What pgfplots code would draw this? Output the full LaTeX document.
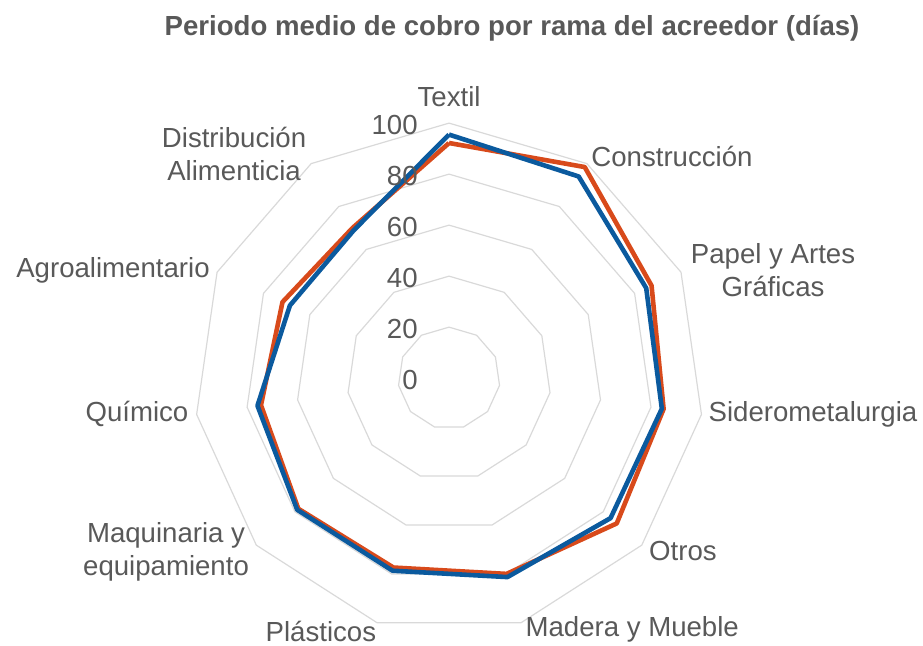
\documentclass[border=0pt]{standalone}
\usepackage{pgfplots}
\pgfplotsset{compat=1.18}
\usepgfplotslibrary{polar}
\usepackage{fontspec}
\setmainfont{Liberation Sans}
\definecolor{naranja}{HTML}{D84A1B}
\definecolor{azul}{HTML}{0B5A9E}
\definecolor{rejilla}{HTML}{D9D9D9}
\definecolor{texto}{HTML}{595959}

\begin{document}
\begin{tikzpicture}[font=\fontsize{13.8}{16.5}\selectfont]
\begin{polaraxis}[
  width=255pt, height=255pt, scale only axis,
  xmin=0, xmax=360, ymin=0, ymax=100,
  hide axis, clip=false,
]
% rejilla poligonal (11 radios)
\pgfplotsinvokeforeach{20,40,60,80,100}{
  \addplot[rejilla, line width=0.6pt, mark=none] coordinates {
    (90,#1) (57.27,#1) (24.55,#1) (-8.18,#1) (-40.91,#1) (-73.64,#1)
    (-106.36,#1) (-139.09,#1) (-171.82,#1) (-204.55,#1) (-237.27,#1) (90,#1)};
}
% serie naranja
\addplot[naranja, line width=2.3pt, mark=none, line join=round] coordinates {
  (90,92.2) (57.27,98.4) (24.55,87.3) (-8.18,85.0) (-40.91,87.0) (-73.64,80.0)
  (-106.36,77.4) (-139.09,78.2) (-171.82,74.5) (-204.55,71.8) (-237.27,70.0) (90,92.2)};
% serie azul
\addplot[azul, line width=2.3pt, mark=none, line join=round] coordinates {
  (90,95.5) (57.27,94.0) (24.55,85.0) (-8.18,84.3) (-40.91,83.8) (-73.64,81.3)
  (-106.36,78.7) (-139.09,78.8) (-171.82,75.9) (-204.55,68.6) (-237.27,69.0) (90,95.5)};

% etiquetas del eje radial
\pgfplotsinvokeforeach{0,20,40,60,80,100}{
  \node[text=texto, anchor=east, xshift=-15.5pt, yshift=-1pt, inner sep=0pt] at (axis cs:90,#1) {#1};
}
% etiquetas de categorias
\node[text=texto, align=center, inner sep=0pt] at (axis cs:90,110.2) {Textil};
\node[text=texto, align=center, inner sep=0pt] at (axis cs:44.9,123.4) {Construcción};
\node[text=texto, align=center, inner sep=0pt] at (axis cs:18.4,133.9) {Papel y Artes\\Gráficas};
\node[text=texto, align=center, inner sep=0pt] at (axis cs:-5.65,143.4) {Siderometalurgia};
\node[text=texto, align=center, inner sep=0pt] at (axis cs:-36.5,114.1) {Otros};
\node[text=texto, align=center, inner sep=0pt, yshift=1.5pt] at (axis cs:-54.2,122.8) {Madera y Mueble};
\node[text=texto, align=center, inner sep=0pt, yshift=1.5pt] at (axis cs:243.4,112.2) {Plásticos};
\node[text=texto, align=center, inner sep=0pt] at (axis cs:211.6,130.3) {Maquinaria y\\equipamiento};
\node[text=texto, align=center, inner sep=0pt] at (axis cs:186.6,123.2) {Químico};
\node[text=texto, align=center, inner sep=0pt] at (axis cs:162.2,138.4) {Agroalimentario};
\node[text=texto, align=center, inner sep=0pt] at (axis cs:133.8,121.8) {Distribución\\Alimenticia};
\node[text=texto, font=\fontsize{13.8}{16.5}\selectfont\bfseries, inner sep=0pt] at (axis cs:79.8,139.5)
  {Periodo medio de cobro por rama del acreedor (días)};

\coordinate (tl) at (axis cs:139.9,230.2);
\coordinate (br) at (axis cs:-29.39,213.3);
\end{polaraxis}
\pgfresetboundingbox
\useasboundingbox (tl) rectangle (br);
\end{tikzpicture}
\end{document}
